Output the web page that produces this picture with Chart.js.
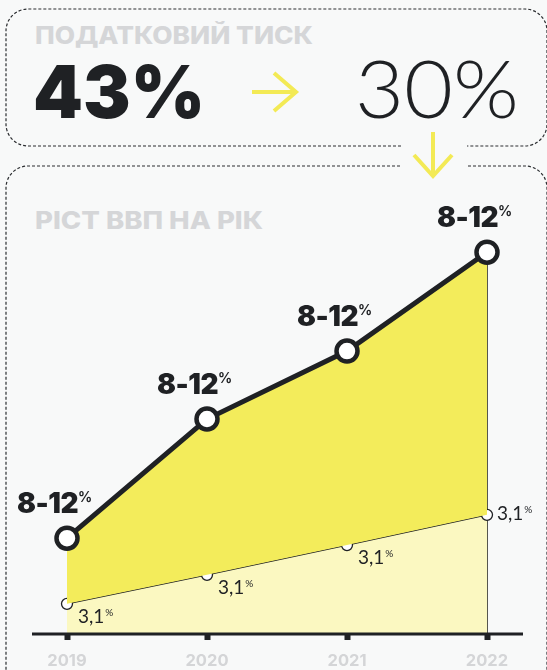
<!DOCTYPE html>
<html><head><meta charset="utf-8">
<script src="https://cdn.jsdelivr.net/npm/chart.js@4.4.0/dist/chart.umd.min.js"></script>
<style>
html,body{margin:0;padding:0;background:#f8f9f9;}
#wrap{position:relative;width:547px;height:670px;overflow:hidden;}
svg,canvas{position:absolute;left:0;top:0;}
</style></head><body>
<div id="wrap">
<svg width="547" height="670" xmlns="http://www.w3.org/2000/svg">
 <g fill="none" stroke="#2b2d30" stroke-width="1.2" stroke-dasharray="3 2">
  <path d="M401 146 H28 A22 22 0 0 1 6 124 V31 A22 22 0 0 1 28 9 H525 A22 22 0 0 1 547 31 V124 A22 22 0 0 1 525 146 H467"/>
  <path d="M400 166 H28 A22 22 0 0 0 6 188 V690"/>
  <path d="M468 166 H525 A22 22 0 0 1 547 188 V690"/>
 </g>
 <g stroke="#f3ea55" stroke-width="4" fill="none">
  <path d="M252 92 H296 M274 73 L296 92 L274 111"/>
  <path d="M433 132 V176 M414 155 L433 176 L452 155"/>
 </g>
 <text id="t1" x="35" y="44" font-family="Inter, 'DejaVu Sans', sans-serif" font-weight="800" font-size="24" fill="#d5d6d8" textLength="278" lengthAdjust="spacingAndGlyphs"></text>
 <text id="t43" x="33" y="118" font-family="Inter, 'DejaVu Sans', sans-serif" font-weight="900" font-size="73" fill="#1f2124" textLength="172" lengthAdjust="spacingAndGlyphs"></text>
 <text id="t30" x="355" y="118" font-family="Lato, sans-serif" font-weight="300" font-size="80" fill="#1f2124" textLength="164" lengthAdjust="spacingAndGlyphs"></text>
 <text id="t2" x="35" y="229" font-family="Inter, 'DejaVu Sans', sans-serif" font-weight="800" font-size="24" fill="#d5d6d8" textLength="228" lengthAdjust="spacingAndGlyphs"></text>
</svg>
<canvas id="c" width="547" height="670"></canvas>
</div>
<script>
// ---- data ----
const taxTitle = 'ПОДАТКОВИЙ ТИСК';
const taxValues = ['43%', '30%'];
const gdpTitle = 'РІСТ ВВП НА РІК';
const years = ['2019', '2020', '2021', '2022'];
const growthHigh = [2.51, 5.63, 7.41, 10.0];   // upper curve (relative height)
const growthBase = [0.79, 1.55, 2.33, 3.12];   // lower curve
const highLabels = ['8-12', '8-12', '8-12', '8-12'];
const baseLabels = ['3,1', '3,1', '3,1', '3,1'];
const pctSign = '%';

document.getElementById('t1').textContent = taxTitle;
document.getElementById('t43').textContent = taxValues[0];
document.getElementById('t30').textContent = taxValues[1];
document.getElementById('t2').textContent = gdpTitle;

const DARK = '#1f2124';
const decor = {
  id: 'decor',
  beforeDatasetsDraw(chart) {
    const ctx = chart.ctx, bottom = chart.chartArea.bottom;
    const pts = chart.getDatasetMeta(0).data;
    ctx.save();
    ctx.strokeStyle = 'rgba(45,45,35,0.8)';
    ctx.lineWidth = 1;
    pts.forEach(p => {
      const x = Math.round(p.x) + 0.5;
      ctx.beginPath(); ctx.moveTo(x, p.y); ctx.lineTo(x, bottom); ctx.stroke();
    });
    ctx.restore();
  },
  afterDatasetsDraw(chart) {
    const ctx = chart.ctx, a = chart.chartArea;
    ctx.save();
    ctx.strokeStyle = DARK; ctx.lineWidth = 3;
    ctx.beginPath(); ctx.moveTo(a.left - 35, a.bottom); ctx.lineTo(a.right + 36, a.bottom); ctx.stroke();
    const hi = chart.getDatasetMeta(0).data, lo = chart.getDatasetMeta(1).data;
    ctx.fillStyle = DARK; ctx.textBaseline = 'alphabetic';
    hi.forEach((p, i) => {
      ctx.font = '900 28px Inter, sans-serif'; ctx.textAlign = 'right';
      ctx.letterSpacing = '-0.5px';
      ctx.fillText(highLabels[i], p.x + 11, p.y - 25);
      ctx.letterSpacing = '0px';
      ctx.font = '700 14px Inter, sans-serif'; ctx.textAlign = 'left';
      ctx.fillText(pctSign, p.x + 11, p.y - 36);
    });
    lo.forEach((p, i) => {
      const last = i === lo.length - 1;
      const x = p.x + (last ? 10 : 11), y = p.y + (last ? 5 : 19);
      ctx.font = '400 19px Lato, sans-serif'; ctx.textAlign = 'left';
      ctx.fillText(baseLabels[i], x, y);
      const w = ctx.measureText(baseLabels[i]).width;
      ctx.font = '400 10px Lato, sans-serif';
      ctx.fillText(pctSign, x + w + 1, y - 7);
    });
    ctx.restore();
  }
};

new Chart(document.getElementById('c'), {
  type: 'line',
  data: {
    labels: years,
    datasets: [
      {
        data: growthHigh,
        borderColor: DARK, borderWidth: 5,
        backgroundColor: '#f3ec5b',
        fill: '+1',
        pointRadius: 10.5, pointBorderWidth: 4.5,
        pointBackgroundColor: '#ffffff', pointBorderColor: DARK,
        tension: 0, clip: false
      },
      {
        data: growthBase,
        borderColor: DARK, borderWidth: 1.3,
        backgroundColor: '#fbf8c1',
        fill: 'origin',
        pointRadius: 5.5, pointBorderWidth: 1.3,
        pointBackgroundColor: '#ffffff', pointBorderColor: DARK,
        tension: 0, clip: false
      }
    ]
  },
  options: {
    responsive: false,
    devicePixelRatio: 1,
    animation: false,
    events: [],
    layout: { padding: { left: 67, right: 60, top: 214, bottom: 0 } },
    plugins: { legend: { display: false }, tooltip: { enabled: false } },
    scales: {
      y: { display: false, min: 0, max: 11 },
      x: {
        offset: false,
        border: { display: false },
        grid: { display: true, drawOnChartArea: false, drawTicks: true, tickLength: 6, tickWidth: 6, tickColor: DARK },
        ticks: { color: '#d4d5d7', padding: 11, font: { family: 'Inter, sans-serif', weight: '700', size: 16.5 } },
        afterFit(scale) { scale.height = 36; }
      }
    }
  },
  plugins: [decor]
});
</script>
</body></html>
